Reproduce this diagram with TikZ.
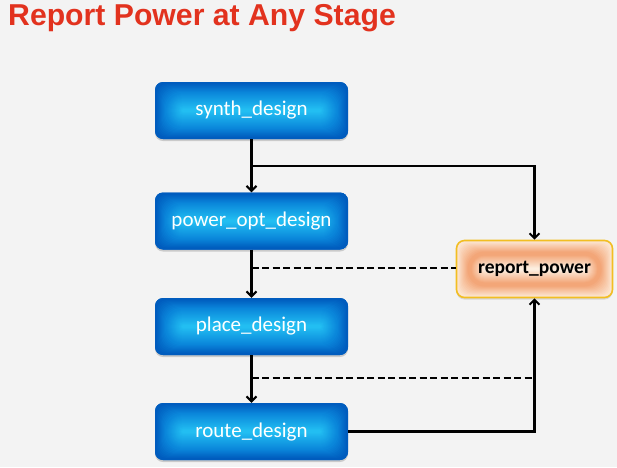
\documentclass[tikz,border=0pt]{standalone}
\usepackage{fontspec}
\setmainfont{Carlito}
\newfontfamily\titlefont{Liberation Sans}
\usetikzlibrary{arrows.meta,shadows}
\definecolor{bg}{HTML}{F3F3F3}
\definecolor{titlered}{HTML}{E2321E}
\definecolor{bluein}{HTML}{22BEF2}
\definecolor{bluemid}{HTML}{0A86DA}
\definecolor{blueout}{HTML}{005CBE}
\definecolor{orin}{HTML}{FDEEDF}
\definecolor{ormid}{HTML}{F3A678}
\definecolor{orout}{HTML}{FCE4CF}
\definecolor{orborder}{HTML}{F2BE22}
\tikzset{
  glowlayers/.style n args={6}{path picture={
    \foreach \i in {0,...,#6}{
      \pgfmathtruncatemacro\pa{min(100,max(0,\i-1)*100/#4)}
      \pgfmathtruncatemacro\pb{max(0,min(100,(\i-#5)*100/(#6-#5)))}
      \pgfmathsetmacro\rr{max(0.5,min(8+\i*0.8,28-\i))}
      \colorlet{gA}{#2!\pa!#1}
      \colorlet{gB}{#3!\pb!gA}
      \fill[gB, rounded corners=\rr pt]
        ([xshift=\i pt,yshift=-\i pt]path picture bounding box.north west) rectangle
        ([xshift=-\i pt,yshift=\i pt]path picture bounding box.south east);
    }}},
  stagebox/.style={rounded corners=8pt, minimum width=193pt, minimum height=57pt,
    fill=blueout, glowlayers={blueout}{bluemid}{bluein}{9}{10}{27},
    text=white, font=\fontsize{21}{24}\selectfont,
    drop shadow={opacity=0.35, shadow xshift=0pt, shadow yshift=-2pt}},
  reportbox/.style={rounded corners=8pt, minimum width=156pt, minimum height=57pt,
    fill=orout, glowlayers={orout}{ormid}{orin}{10}{14}{27},
    draw=orborder, line width=1.6pt, text=black,
    font=\bfseries\fontsize{19.5}{23}\selectfont,
    drop shadow={opacity=0.25, shadow xshift=0pt, shadow yshift=-2pt}},
  conn/.style={line width=2.2pt, black},
  arr/.style={conn, -{Straight Barb[length=5pt,width=10pt,line width=2pt]}},
  dashconn/.style={conn, dash pattern=on 7pt off 3.5pt}
}
\begin{document}
\begin{tikzpicture}[x=1pt,y=-1pt]
\fill[bg] (0,0) rectangle (617,467);
\useasboundingbox (0,0) rectangle (617,467);
\node[anchor=base west, text=titlered, inner sep=0pt, font=\titlefont\bfseries\fontsize{30.2}{35}\selectfont] (title) at (8,25.5) {Report Power at Any Stage};
\node[stagebox] (synth) at (251.5,110.5) {synth\_design};
\node[stagebox] (popt) at (251.5,221) {power\_opt\_design};
\node[stagebox] (place) at (251.5,326.5) {place\_design};
\node[stagebox] (route) at (251.5,431.5) {route\_design};
\node[reportbox] (rp) at (534.5,269) {report\_power};
\coordinate (b1) at (251.5,166);
\coordinate (d1) at (251.5,268);
\coordinate (d2) at (251.5,378);
\draw[arr] (synth) -- (popt);
\draw[arr] (popt) -- (place);
\draw[arr] (place) -- (route);
\draw[arr] (b1) -| (rp.north);
\draw[dashconn] (d1) -- (d1 -| rp.west);
\draw[dashconn] (d2) -- (d2 -| rp.south);
\draw[arr] (route.east) -| (rp.south);
\end{tikzpicture}
\end{document}
